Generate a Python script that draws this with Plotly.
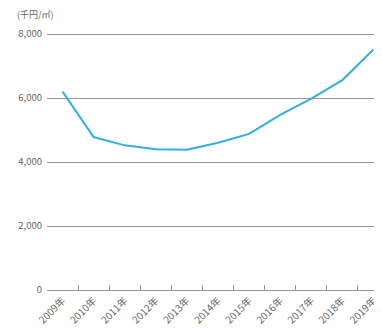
import plotly.graph_objects as go

years = ["2009年", "2010年", "2011年", "2012年", "2013年", "2014年",
         "2015年", "2016年", "2017年", "2018年", "2019年"]
values = [6200, 4780, 4520, 4400, 4380, 4600, 4880, 5470, 5980, 6560, 7520]
y_ticks = [0, 2000, 4000, 6000, 8000]
y_tick_text = ["0", "2,000", "4,000", "6,000", "8,000"]
unit_label = "(千円/㎡)"

fig = go.Figure()
fig.add_trace(go.Scatter(
    x=years, y=values, mode="lines",
    line=dict(color="#33aee2", width=2),
    hoverinfo="skip", showlegend=False,
))

font = dict(family="Noto Sans CJK JP, sans-serif", size=9.5, color="#666666")
xfont = dict(family="Noto Sans CJK JP, sans-serif", size=10, color="#666666")

fig.update_layout(
    width=382, height=329,
    margin=dict(l=39, r=1, t=22, b=47),
    paper_bgcolor="white", plot_bgcolor="white",
    font=font,
    xaxis=dict(
        type="category",
        range=[-0.5, 10.5],
        tickson="boundaries",
        ticks="inside", ticklen=5, tickcolor="#999999", tickwidth=1,
        tickangle=-45,
        ticklabelstandoff=2,
        showgrid=False, zeroline=False,
        showline=False,
        tickfont=xfont,
        automargin=False,
        fixedrange=True,
    ),
    yaxis=dict(
        range=[0, 8125],
        tickvals=y_ticks, ticktext=y_tick_text,
        showgrid=True, gridcolor="#999999", gridwidth=1,
        zeroline=True, zerolinecolor="#999999", zerolinewidth=1,
        ticks="", ticklabelstandoff=4,
        tickfont=font,
        automargin=False,
        fixedrange=True,
    ),
    annotations=[dict(
        text=unit_label, xref="paper", yref="paper",
        x=-0.094, y=1.0, xanchor="left", yanchor="middle", yshift=16,
        showarrow=False, font=dict(family=font["family"], size=9, color="#666666"),
    )],
)

fig.write_html("out.html")
